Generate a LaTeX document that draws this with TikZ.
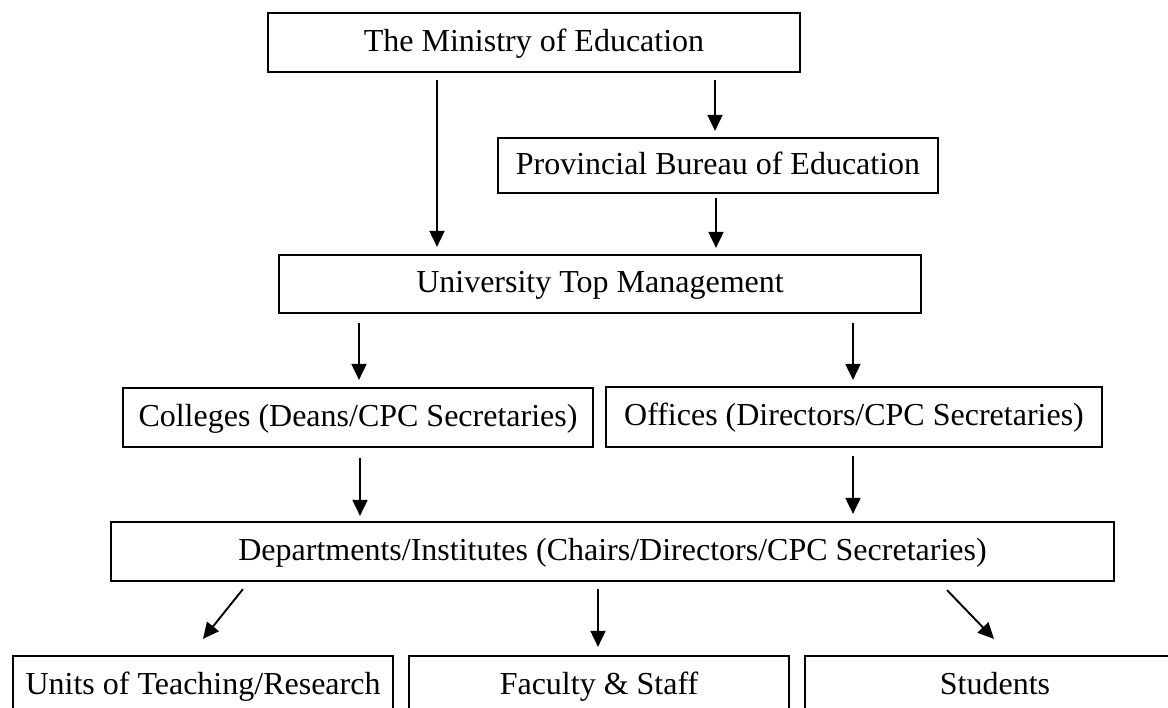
\documentclass[tikz,border=0pt]{standalone}
\usepackage{fontspec}
\setmainfont{Liberation Serif}
\usetikzlibrary{arrows.meta}
\begin{document}
\begin{tikzpicture}[x=1pt,y=-1pt,
  box/.style={draw, line width=2.2pt, inner sep=0pt, align=center,
    font=\fontsize{32}{38}\selectfont, text height=21pt, text depth=3pt},
  arr/.style={line width=1.9pt, -{Triangle[length=16pt,width=15pt]}}]
\useasboundingbox (0,0) rectangle (1168,708);
\fill[white] (0,0) rectangle (1168,708);
\clip (0,0) rectangle (1168,708);
\node[box, minimum width=532pt, minimum height=59pt] (min) at (534,42.5) {The Ministry of Education};
\node[box, minimum width=440pt, minimum height=55pt] (prov) at (718,165.5) {Provincial Bureau of Education};
\node[box, minimum width=642pt, minimum height=58pt] (univ) at (600,284) {University Top Management};
\node[box, minimum width=470pt, minimum height=59pt] (col) at (358,417.5) {Colleges (Deans/CPC Secretaries)};
\node[box, minimum width=496pt, minimum height=60pt] (off) at (854,417) {Offices (Directors/CPC Secretaries)};
\node[box, minimum width=1003pt, minimum height=59pt] (dept) at (612.5,551.5) {Departments/Institutes (Chairs/Directors/CPC Secretaries)};
\node[box, minimum width=380pt, minimum height=58pt] (units) at (203,685) {Units of Teaching/Research};
\node[box, minimum width=380pt, minimum height=58pt] (fac) at (599,685) {Faculty \& Staff};
\node[box, minimum width=380pt, minimum height=58pt] (stu) at (995,685) {Students};
\draw[arr] ([xshift=-97pt,yshift=-7pt]min.south) -- ([xshift=-163pt,yshift=7pt]univ.north);
\draw[arr] ([xshift=181pt,yshift=-7pt]min.south) -- ([xshift=-3pt,yshift=6pt]prov.north);
\draw[arr] ([xshift=-2pt,yshift=-4pt]prov.south) -- ([xshift=116pt,yshift=6pt]univ.north);
\draw[arr] ([xshift=-241pt,yshift=-9pt]univ.south) -- ([xshift=1pt,yshift=7pt]col.north);
\draw[arr] ([xshift=253pt,yshift=-9pt]univ.south) -- ([xshift=-1pt,yshift=6pt]off.north);
\draw[arr] ([xshift=2pt,yshift=-10pt]col.south) -- ([xshift=-252.5pt,yshift=5pt]dept.north);
\draw[arr] ([xshift=-1pt,yshift=-8pt]off.south) -- ([xshift=240.5pt,yshift=7pt]dept.north);
\draw[arr] ([xshift=-369.5pt,yshift=-7pt]dept.south) -- ([yshift=16pt]units.north);
\draw[arr] ([xshift=-14.5pt,yshift=-7pt]dept.south) -- ([xshift=-1pt,yshift=8pt]fac.north);
\draw[arr] ([xshift=334.5pt,yshift=-8pt]dept.south) -- ([xshift=-1pt,yshift=16pt]stu.north);
\end{tikzpicture}
\end{document}
